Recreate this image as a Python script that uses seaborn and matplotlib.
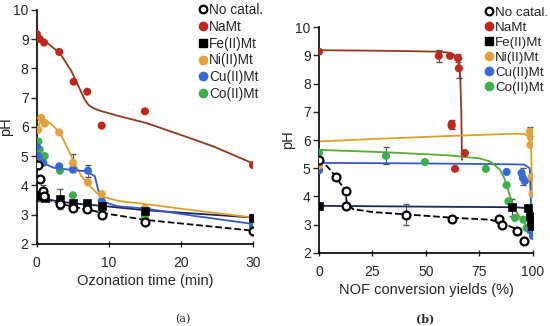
import numpy as np
import pandas as pd
import seaborn as sns
import matplotlib
matplotlib.use('Agg')
from matplotlib import pyplot as plt
from matplotlib.lines import Line2D

sns.set_style('white')
plt.rcParams['font.family'] = ['Liberation Sans', 'DejaVu Sans']

series = ['No catal.', 'NaMt', 'Fe(II)Mt', 'Ni(II)Mt', 'Cu(II)Mt', 'Co(II)Mt']
cores = {'No catal.': 'black', 'NaMt': '#c0281e', 'Fe(II)Mt': 'black',
         'Ni(II)Mt': '#e4a23c', 'Cu(II)Mt': '#3768d6', 'Co(II)Mt': '#3cae50'}
cores_linha = {'No catal.': 'black', 'NaMt': '#8e3a1c', 'Fe(II)Mt': '#1d2556',
               'Ni(II)Mt': '#d9a12a', 'Cu(II)Mt': '#3558c8', 'Co(II)Mt': '#5aa832'}

# ---------- (a) pontos: pH vs tempo de ozonizacao ----------
a_nocat_x = [0.2, 0.5, 0.9, 1.0, 3.2, 5, 7, 9, 15, 30]
a_nocat_y = [4.71, 4.22, 3.8, 3.62, 3.35, 3.22, 3.2, 2.98, 2.76, 2.45]
a_na_x = [0, 0.4, 1, 3.1, 5.1, 7, 9, 15, 30]
a_na_y = [9.17, 9.0, 8.88, 8.56, 7.54, 7.2, 6.04, 6.53, 4.69]
a_fe_x = [0, 0.5, 1.1, 3.2, 5, 7, 9, 15, 30]
a_fe_y = [3.66, 3.63, 3.58, 3.53, 3.41, 3.38, 3.3, 3.13, 2.88]
a_ni_x = [0.2, 0.6, 1.1, 3.1, 5, 7.1, 9, 15, 30]
a_ni_y = [5.9, 6.31, 6.11, 5.81, 4.77, 4.1, 3.7, 3.2, 2.9]
a_cu_x = [0, 0.2, 0.9, 3.1, 5, 7.1, 9, 15, 30]
a_cu_y = [5.33, 5.0, 4.77, 4.65, 4.54, 4.5, 3.46, 3.2, 2.6]
a_co_x = [0.2, 0.4, 0.8, 1.1, 3.2, 5, 7, 9, 9, 15, 30]
a_co_y = [5.5, 5.22, 4.88, 5.0, 4.5, 3.66, 3.36, 3.3, 3.1, 2.9, 2.87]

# (a) curvas de tendencia
a_nocat_cx = [0, 3, 6, 10, 15, 30]
a_nocat_cy = [3.66, 3.38, 3.22, 3.02, 2.82, 2.45]
a_na_cx = [0, 1, 3.2, 4.8, 6, 6.6, 7.2, 8, 8.75, 11.5, 15.2, 19.9, 24.5, 30]
a_na_cy = [9.1, 8.95, 8.52, 7.9, 7.27, 6.95, 6.74, 6.62, 6.55, 6.36, 6.13, 5.73, 5.33, 4.75]
a_fe_cx = [0, 3, 6, 9, 15, 30]
a_fe_cy = [3.6, 3.45, 3.36, 3.3, 3.15, 2.9]
a_ni_cx = [0.1, 0.5, 1.1, 2, 3.2, 4.35, 5.3, 6.2, 7.4, 8.75, 11.5, 15.4, 20, 25, 30]
a_ni_cy = [5.9, 6.2, 6.25, 6.1, 5.8, 5.22, 4.71, 4.31, 3.97, 3.63, 3.46, 3.35, 3.2, 3.05, 2.9]
a_cu_cx = [0, 0.3, 1, 2.3, 5, 6.9, 8.05, 8.5, 9, 11.1, 15.2, 22, 30]
a_cu_cy = [5.1, 4.9, 4.75, 4.6, 4.52, 4.48, 4.31, 3.86, 3.46, 3.29, 3.2, 2.95, 2.68]

# ---------- (b) pontos: pH vs conversao do NOF ----------
b_nocat_x = [0, 7.8, 12.5, 12.6, 40.5, 62.3, 84.1, 85.5, 92.7, 96]
b_nocat_y = [5.3, 4.7, 4.19, 3.66, 3.35, 3.22, 3.2, 3.0, 2.78, 2.43]
b_na_x = [0, 56, 61.2, 65, 65.4, 62, 62, 63.6, 68.2]
b_na_y = [9.13, 8.98, 8.98, 8.9, 8.54, 6.57, 6.5, 4.98, 5.54]
b_fe_x = [0, 90.3, 97.8, 98.5, 99.2, 99.6]
b_fe_y = [3.67, 3.62, 3.6, 3.3, 3.1, 2.95]
b_ni_x = [0, 98.6, 99, 98.8, 99.5, 99.8]
b_ni_y = [5.1, 6.3, 6.1, 5.83, 4.7, 4.1]
b_cu_x = [0, 87.7, 94.7, 95.3, 96.2, 99, 100]
b_cu_y = [4.93, 4.87, 4.83, 4.66, 4.55, 2.8, 2.6]
b_co_x = [0, 31.3, 49.5, 78, 87.7, 88.5, 91.6, 95.5, 97, 98.6]
b_co_y = [5.55, 5.44, 5.22, 4.98, 4.4, 3.83, 3.24, 3.18, 2.89, 2.8]

# (b) curvas de tendencia
b_nocat_cx = [0, 4, 7.8, 10.5, 12.5, 13, 16, 25, 40, 62, 80, 86, 92, 96]
b_nocat_cy = [5.35, 5.05, 4.72, 4.4, 4.15, 3.75, 3.55, 3.45, 3.37, 3.25, 3.18, 3.05, 2.85, 2.5]
b_na_cx = [0, 30, 55, 60, 63, 65, 66, 66.5, 66.7, 66.8]
b_na_cy = [9.18, 9.16, 9.13, 9.1, 9.02, 8.85, 8.3, 7.0, 6.0, 5.3]
b_fe_cx = [0, 50, 92, 98, 99, 99.6]
b_fe_cy = [3.67, 3.64, 3.62, 3.58, 3.3, 2.9]
b_ni_cx = [0, 30, 60, 90, 96, 98.3, 99.2, 99.4, 99.6]
b_ni_cy = [5.95, 6.05, 6.14, 6.22, 6.22, 6.1, 5.6, 4.8, 4.0]
b_cu_cx = [0, 50, 90, 96, 98.5, 99, 99.4]
b_cu_cy = [5.19, 5.17, 5.14, 5.13, 5.0, 4.0, 2.6]
b_co_cx = [0, 30, 60, 75, 80, 84.6, 86.9, 89.3, 91.6, 94.7, 99.4]
b_co_cy = [5.65, 5.57, 5.46, 5.35, 5.24, 4.95, 4.6, 4.0, 3.53, 3.18, 2.77]

# barras de erro (x, y, erro)
a_err = [(5, 4.77, 0.3, 'Ni(II)Mt'), (7.1, 4.5, 0.2, 'Cu(II)Mt'), (3.2, 3.53, 0.35, 'Fe(II)Mt'),
         (0.5, 3.63, 0.15, 'Fe(II)Mt'), (0.9, 3.8, 0.2, 'No catal.')]
b_err = [(56, 8.98, 0.2, 'NaMt'), (65, 8.9, 0.15, 'NaMt'), (65.4, 8.54, 0.35, 'NaMt'),
         (62, 6.55, 0.15, 'NaMt'), (31.3, 5.44, 0.3, 'Co(II)Mt'), (40.5, 3.35, 0.37, 'No catal.'),
         (98.6, 6.3, 0.15, 'Ni(II)Mt'), (95.5, 4.7, 0.3, 'Cu(II)Mt'), (90.3, 3.62, 0.3, 'Co(II)Mt')]

pontos_a = {'No catal.': (a_nocat_x, a_nocat_y), 'NaMt': (a_na_x, a_na_y), 'Fe(II)Mt': (a_fe_x, a_fe_y),
            'Ni(II)Mt': (a_ni_x, a_ni_y), 'Cu(II)Mt': (a_cu_x, a_cu_y), 'Co(II)Mt': (a_co_x, a_co_y)}
curvas_a = {'No catal.': (a_nocat_cx, a_nocat_cy), 'NaMt': (a_na_cx, a_na_cy), 'Fe(II)Mt': (a_fe_cx, a_fe_cy),
            'Ni(II)Mt': (a_ni_cx, a_ni_cy), 'Cu(II)Mt': (a_cu_cx, a_cu_cy)}
pontos_b = {'No catal.': (b_nocat_x, b_nocat_y), 'NaMt': (b_na_x, b_na_y), 'Fe(II)Mt': (b_fe_x, b_fe_y),
            'Ni(II)Mt': (b_ni_x, b_ni_y), 'Cu(II)Mt': (b_cu_x, b_cu_y), 'Co(II)Mt': (b_co_x, b_co_y)}
curvas_b = {'No catal.': (b_nocat_cx, b_nocat_cy), 'NaMt': (b_na_cx, b_na_cy), 'Fe(II)Mt': (b_fe_cx, b_fe_cy),
            'Ni(II)Mt': (b_ni_cx, b_ni_cy), 'Cu(II)Mt': (b_cu_cx, b_cu_cy), 'Co(II)Mt': (b_co_cx, b_co_cy)}


def desenhar(ax, pontos, curvas, erros):
    for nome, (cx, cy) in curvas.items():
        df = pd.DataFrame({'x': cx, 'y': cy})
        sns.lineplot(data=df, x='x', y='y', ax=ax, sort=False, estimator=None,
                     color=cores_linha[nome], lw=1.3,
                     linestyle='--' if nome == 'No catal.' else '-', zorder=2)
    for x, y, e, nome in erros:
        ax.errorbar(x, y, yerr=e, fmt='none', ecolor='#555555', elinewidth=0.8, capsize=2, zorder=1)
    for nome in ['Co(II)Mt', 'Cu(II)Mt', 'Ni(II)Mt', 'NaMt', 'Fe(II)Mt', 'No catal.']:
        px, py = pontos[nome]
        df = pd.DataFrame({'x': px, 'y': py})
        if nome == 'No catal.':
            sns.scatterplot(data=df, x='x', y='y', ax=ax, s=32, marker='o', facecolor='white',
                            edgecolor='black', linewidth=1.6, zorder=4)
        elif nome == 'Fe(II)Mt':
            sns.scatterplot(data=df, x='x', y='y', ax=ax, s=30, marker='s', color='black',
                            edgecolor='black', zorder=3)
        else:
            sns.scatterplot(data=df, x='x', y='y', ax=ax, s=34, marker='o', color=cores[nome],
                            edgecolor='none', zorder=3)
    ax.set_ylim(2, 10)
    ax.set_yticks(range(2, 11))
    sns.despine(ax=ax)
    for s in ['left', 'bottom']:
        ax.spines[s].set_color('black')
        ax.spines[s].set_linewidth(1.2)
    ax.tick_params(axis='y', direction='out', length=4, width=1, labelsize=10, pad=2, left=True)
    ax.tick_params(axis='x', direction='inout', length=5, width=1, labelsize=10, pad=6, bottom=True)
    ax.set_ylabel('pH', fontsize=10.5, labelpad=0)


def legenda(ax, ancora, tam, esp):
    handles = []
    for nome in series:
        if nome == 'No catal.':
            h = Line2D([], [], ls='none', marker='o', mfc='white', mec='black', mew=1.6, ms=5.5)
        elif nome == 'Fe(II)Mt':
            h = Line2D([], [], ls='none', marker='s', color='black', ms=5.5)
        else:
            h = Line2D([], [], ls='none', marker='o', color=cores[nome], ms=6)
        handles.append(h)
    ax.legend(handles, series, loc='upper left', bbox_to_anchor=ancora, bbox_transform=fig.transFigure,
              frameon=False, fontsize=tam, handlelength=0.6, handletextpad=0.15,
              labelspacing=esp, borderpad=0, borderaxespad=0)


fig = plt.figure(figsize=(5.5, 3.26), dpi=100)
ax1 = fig.add_axes([0.067, 0.252, 0.393, 0.718])
ax2 = fig.add_axes([0.58, 0.224, 0.389, 0.693])

desenhar(ax1, pontos_a, curvas_a, a_err)
ax1.set_xlim(0, 30)
ax1.set_xticks([0, 10, 20, 30])
ax1.set_xlabel('Ozonation time (min)', fontsize=10.5, labelpad=3)
legenda(ax1, (0.362, 0.99), 9.8, 0.2)

desenhar(ax2, pontos_b, curvas_b, b_err)
ax2.set_xlim(0, 100)
ax2.set_xticks([0, 25, 50, 75, 100])
ax2.set_xlabel('NOF conversion yields (%)', fontsize=10.5, labelpad=3)
legenda(ax2, (0.882, 0.98), 9.6, 0.2)

fig.text(0.333, 0.012, '(a)', fontsize=8, family='DejaVu Serif', ha='center')
fig.text(0.773, 0.012, '(b)', fontsize=8, family='DejaVu Serif', ha='center', weight='bold')

fig.savefig('out.png', dpi=100)
